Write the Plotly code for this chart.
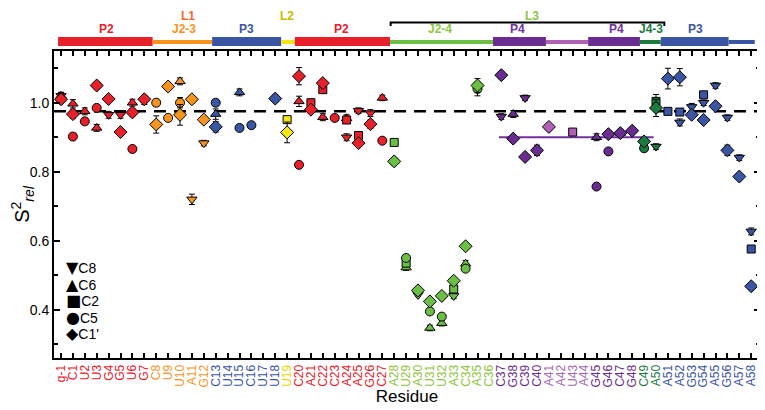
import plotly.graph_objects as go

# residues along the x axis
residues = ["g-1", "C1", "U2", "U3", "G4", "G5", "U6", "G7", "C8", "U9", "U10", "A11", "G12",
            "C13", "U14", "U15", "C16", "U17", "U18", "U19", "C20", "A21", "C22", "C23", "A24",
            "A25", "G26", "C27", "A28", "U29", "A30", "U31", "U32", "A33", "C34", "A35", "C36",
            "C37", "G38", "C39", "C40", "A41", "A42", "U43", "A44", "G45", "G46", "C47", "G48",
            "C49", "A50", "A51", "A52", "G53", "G54", "A55", "G56", "A57", "A58"]

# region of each residue (colour group)
region = (["P2a"] * 8 + ["J23"] * 5 + ["P3a"] * 6 + ["L2"] + ["P2b"] * 8 + ["J24"] * 9 +
          ["P4a"] * 4 + ["L4"] * 4 + ["P4b"] * 4 + ["J43"] * 2 + ["P3b"] * 8)

# C8 (triangle-down)
c8_res = ["g-1", "G4", "G5", "G7", "A11", "G12", "A24", "A25", "G26", "A30", "A33", "C37", "C39",
          "A50", "A52", "G53", "G54", "A55", "G56", "A57", "A58"]
c8_val = [1.02, 0.965, 0.965, 1.005, 0.72, 0.883, 0.90, 0.977, 0.97, 0.443, 0.44, 0.96, 1.014,
          0.873, 0.943, 0.988, 1.0, 1.05, 0.957, 0.841, 0.627]
c8_err = [0.01, 0.01, 0.01, 0.01, 0.015, 0.008, 0.01, 0.008, 0.01, 0.005, 0.008, 0.008, 0.008,
          0.008, 0.01, 0.01, 0.008, 0.008, 0.008, 0.008, 0.01]

# C6 (triangle-up)
c6_res = ["g-1", "C1", "U2", "U3", "U6", "U10", "C13", "U15", "C20", "C22", "A24", "C27", "U29",
          "U31", "U32", "C34", "G38", "G45", "C47"]
c6_val = [1.02, 0.997, 0.975, 0.927, 1.0, 1.062, 0.967, 1.03, 1.004, 0.958, 0.955, 1.014, 0.522,
          0.347, 0.361, 0.533, 0.967, 0.90, 0.912]
c6_err = [0.01, 0.012, 0.01, 0.01, 0.01, 0.01, 0.015, 0.01, 0.015, 0.01, 0.01, 0.008, 0.008,
          0.008, 0.008, 0.01, 0.01, 0.01, 0.01]

# C2 (square)
c2_res = ["U19", "A21", "C22", "A24", "A25", "A28", "U29", "A33", "U43", "A50", "A51", "A52",
          "G54", "A58"]
c2_val = [0.951, 1.0, 1.038, 0.95, 0.905, 0.885, 0.535, 0.46, 0.915, 1.004, 0.975, 0.973,
          1.023, 0.576]
c2_err = [0.008, 0.01, 0.01, 0.01, 0.008, 0.005, 0.008, 0.01, 0.005, 0.02, 0.008, 0.008,
          0.008, 0.008]

# C5 (circle)
c5_res = ["C1", "U2", "U3", "U6", "C8", "U9", "U10", "C13", "U15", "C16", "C20", "C23", "C27",
          "A28", "U29", "U31", "U32", "C34", "A35", "G45", "G46", "C49"]
c5_val = [0.902, 0.946, 0.985, 0.866, 1.0, 0.956, 1.0, 1.0, 0.927, 0.935, 0.82, 0.956, 0.89,
          0.83, 0.55, 0.395, 0.38, 0.519, 1.04, 0.757, 0.859, 0.868]
c5_err = [0.008, 0.008, 0.008, 0.006, 0.01, 0.008, 0.015, 0.008, 0.008, 0.008, 0.006, 0.008,
          0.006, 0.006, 0.008, 0.008, 0.008, 0.008, 0.02, 0.006, 0.006, 0.008]

# C1' (diamond)
c1p_res = ["g-1", "C1", "U3", "G4", "G5", "U6", "G7", "C8", "U9", "U10", "A11", "G12", "C13",
           "U18", "U19", "C20", "A21", "C22", "A25", "G26", "A28", "A30", "U31", "U32", "A33",
           "C34", "A35", "C37", "G38", "C39", "C40", "A41", "G46", "C47", "G48", "C49", "A50",
           "A51", "A52", "G53", "G54", "A55", "G56", "A57", "A58"]
c1p_val = [1.01, 0.967, 1.05, 1.011, 0.915, 0.972, 1.01, 0.937, 1.047, 0.965, 1.01, 0.951, 0.93,
           1.012, 0.914, 1.077, 0.98, 1.057, 0.883, 0.938, 0.83, 0.456, 0.424, 0.44, 0.484,
           0.584, 1.05, 1.08, 0.896, 0.843, 0.862, 0.93, 0.909, 0.912, 0.919, 0.888, 0.985,
           1.07, 1.074, 0.965, 0.95, 0.99, 0.862, 0.786, 0.468]
c1p_err = [0.008, 0.012, 0.01, 0.01, 0.01, 0.01, 0.01, 0.025, 0.01, 0.03, 0.01, 0.01, 0.015,
           0.01, 0.03, 0.025, 0.01, 0.01, 0.01, 0.012, 0.006, 0.006, 0.006, 0.006, 0.006,
           0.006, 0.02, 0.01, 0.008, 0.008, 0.015, 0.006, 0.008, 0.01, 0.008, 0.008, 0.025,
           0.03, 0.025, 0.01, 0.01, 0.01, 0.015, 0.008, 0.008]

reference_level = 0.975
p4_level = 0.90

colors = {"P2a": "#e8202a", "P2b": "#e8202a", "J23": "#f7941d", "P3a": "#3b55a5",
          "P3b": "#3b55a5", "L2": "#f5e616", "J24": "#6cbf45", "P4a": "#6a2c91",
          "P4b": "#6a2c91", "L4": "#b25fb8", "J43": "#1b7b3e"}
label_colors = dict(colors, L2="#e8d800", J24="#8dc63f", L4="#a469b0")

X_MIN, X_MAX = -0.59, 58.74
pos = {r: i for i, r in enumerate(residues)}


def xp(i):
    return (i - X_MIN) / (X_MAX - X_MIN)


fig = go.Figure()

series = [("C8", "triangle-down", "▼", c8_res, c8_val, c8_err, 9),
          ("C6", "triangle-up", "▲", c6_res, c6_val, c6_err, 9),
          ("C2", "square", "■", c2_res, c2_val, c2_err, 8),
          ("C5", "circle", "●", c5_res, c5_val, c5_err, 9),
          ("C1'", "diamond", "◆", c1p_res, c1p_val, c1p_err, 10)]

for name, sym, glyph, res, val, err, size in series:
    fig.add_trace(go.Scatter(
        x=[pos[r] for r in res], y=val, mode="markers", name=name, showlegend=False,
        marker=dict(symbol=sym, size=size, color=[colors[region[pos[r]]] for r in res],
                    line=dict(color="black", width=1)),
        error_y=dict(type="data", array=err, color="black", thickness=1, width=3)))

# symbol key, lower left (one block of text lines)
key_lines = [f"<span style='font-family:DejaVu Sans;font-size:16px'>{s[2]}</span>"
             f"<span style='font-size:14px'>{s[0]}</span>" for s in series]
fig.add_annotation(x=0.0156, y=0.1889, xref="paper", yref="paper", showarrow=False,
                   borderpad=0, xanchor="left", yanchor="middle", align="left",
                   font=dict(size=12.7, color="black"), text="<br>".join(key_lines))

# dashed reference line and P4 average line
fig.add_shape(type="line", xref="x", yref="y", x0=X_MIN, x1=X_MAX, y0=reference_level,
              y1=reference_level, line=dict(color="black", width=2.5, dash="12px,8px"), layer="below")
fig.add_shape(type="line", xref="x", yref="y", x0=36.8, x1=49.8, y0=p4_level, y1=p4_level,
              line=dict(color="#7030a0", width=2), layer="below")

# secondary structure bars above the plot
segments = [(-0.25, 7.7, "P2a", True), (7.7, 12.7, "J23", False), (12.7, 18.5, "P3a", True),
            (18.5, 19.65, "L2", False), (19.65, 27.65, "P2b", True), (27.65, 36.3, "J24", False),
            (36.3, 40.75, "P4a", True), (40.75, 44.3, "L4", False), (44.3, 48.65, "P4b", True),
            (48.65, 50.4, "J43", False), (50.4, 56.1, "P3b", True), (56.1, 58.3, "P3b", False)]
for a, b, reg, thick in segments:
    y0, y1 = (1.0163, 1.0456) if thick else (1.0228, 1.0358)
    fig.add_shape(type="rect", xref="paper", yref="paper", x0=xp(a), x1=xp(b), y0=y0, y1=y1,
                  fillcolor=colors[reg], line=dict(width=0))

# L3 bracket
fig.add_shape(type="path", xref="paper", yref="paper",
              path=f"M {xp(27.7)},1.0814 L {xp(27.7)},1.0928 L {xp(50.7)},1.0928 L {xp(50.7)},1.0814",
              line=dict(color="black", width=2))

struct_labels = [(3.78, 1.0717, "P2", "#e8202a"), (10.34, 1.0717, "J2-3", "#f7941d"),
                 (15.6, 1.0717, "P3", "#3b55a5"), (23.6, 1.0717, "P2", "#e8202a"),
                 (31.85, 1.0717, "J2-4", "#8dc63f"), (38.4, 1.0717, "P4", "#7030a0"),
                 (46.7, 1.0717, "P4", "#7030a0"), (49.6, 1.0717, "J4-3", "#1b7b3e"),
                 (53.3, 1.0717, "P3", "#3b55a5"), (10.7, 1.1140, "L1", "#f26a2a"),
                 (19.0, 1.1140, "L2", "#c8bb00"), (39.6, 1.1140, "L3", "#8dc63f")]
for x, y, t, c in struct_labels:
    fig.add_annotation(x=xp(x), y=y, xref="paper", yref="paper", text=f"<b>{t}</b>",
                       showarrow=False, xanchor="center", yanchor="middle", borderpad=0,
                       font=dict(size=12, color=c, family="Arial"))

ticktext = [f"<span style='color:{label_colors[region[i]]}'>{r}</span>" for i, r in enumerate(residues)]

# the page body adds an 8px margin, so the figure is sized to fit the window
fig.update_layout(
    width=757, height=402, margin=dict(l=46, r=5, t=43, b=52),
    paper_bgcolor="white", plot_bgcolor="white",
    font=dict(family="Arial", color="black"),
    showlegend=False,
    xaxis=dict(range=[X_MIN, X_MAX], tickmode="array", tickvals=list(range(len(residues))),
               ticktext=ticktext, tickangle=-90, ticks="inside", ticklen=5, tickwidth=1.5,
               tickcolor="black", showline=True, linecolor="black", linewidth=2, mirror="ticks",
               showgrid=False, zeroline=False, tickfont=dict(size=12, family="Arial"),
               automargin=False,
               title=dict(text="Residue", font=dict(size=17), standoff=2)),
    yaxis=dict(range=[0.26, 1.15], tickmode="array", tickvals=[0.4, 0.6, 0.8, 1.0],
               ticktext=["0.4", "0.6", "0.8", "1.0"], ticks="inside", ticklen=6, tickwidth=1.5,
               tickcolor="black", showline=True, linecolor="black", linewidth=2, mirror="ticks",
               showgrid=False, zeroline=False, tickfont=dict(size=14), automargin=False,
               minor=dict(tickvals=[0.3, 0.5, 0.7, 0.9, 1.1], ticks="inside", ticklen=4,
                          tickcolor="black", tickwidth=1.5),
               title=dict(text="S<sup>2</sup><sub><i>rel</i></sub>", font=dict(size=20), standoff=4)),
)

fig.write_html("out.html")
